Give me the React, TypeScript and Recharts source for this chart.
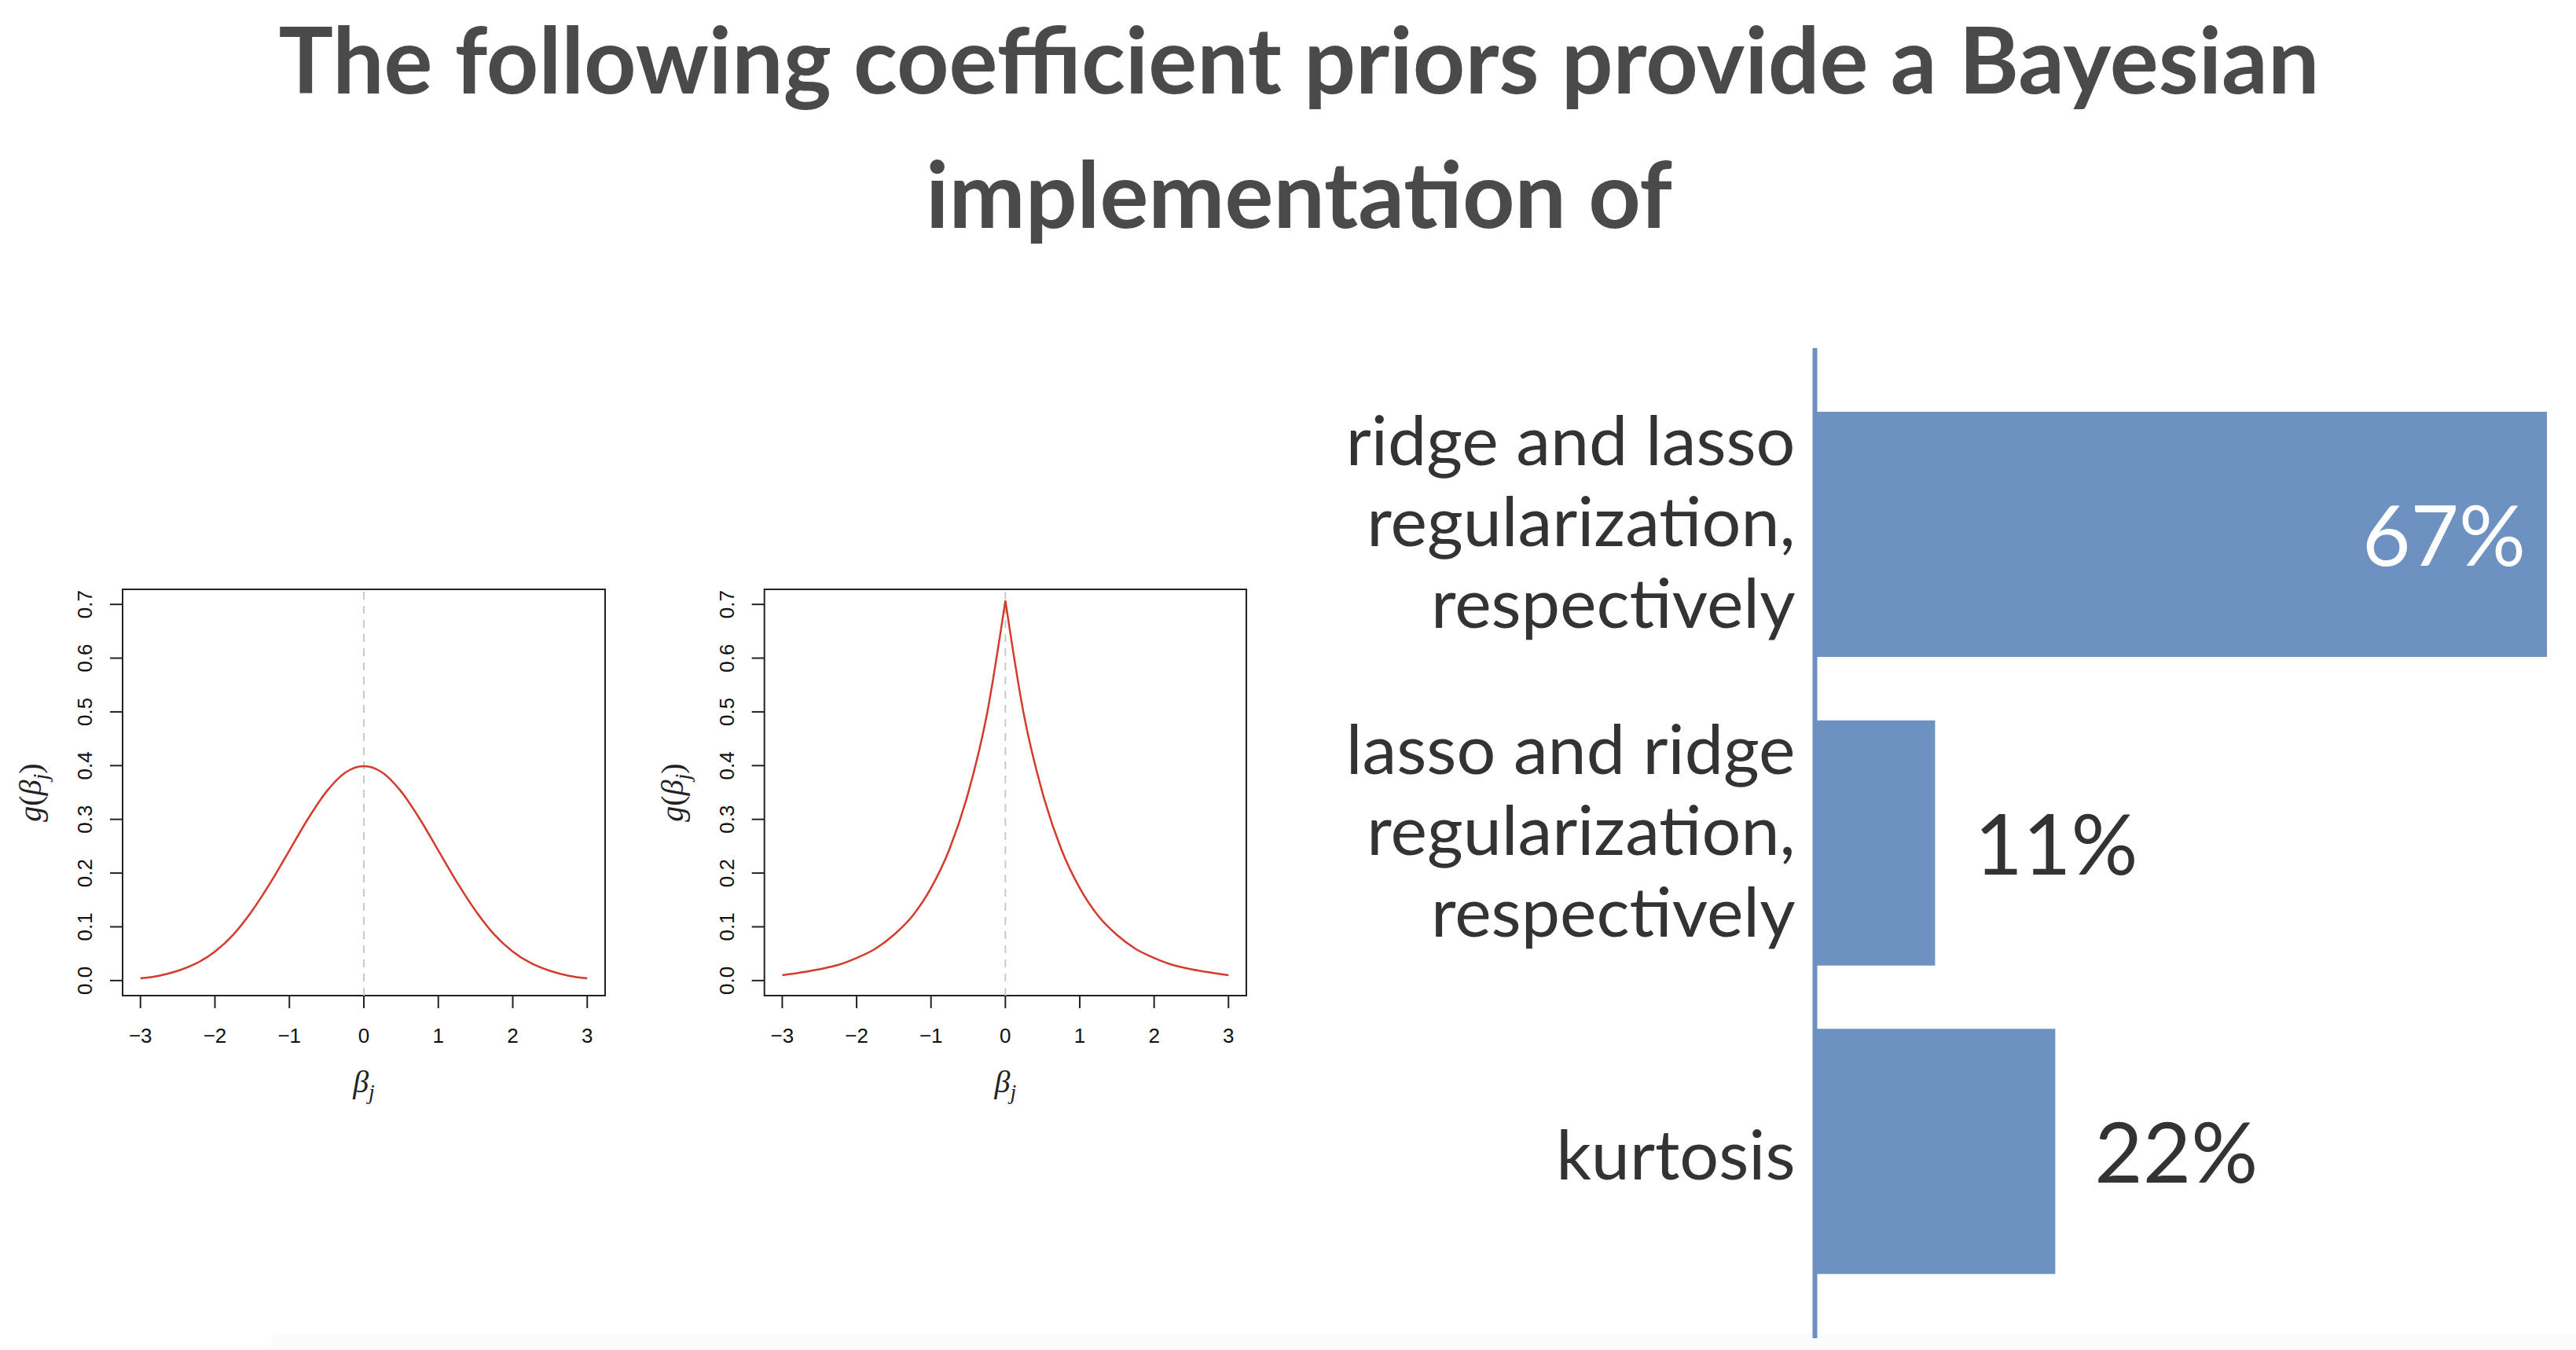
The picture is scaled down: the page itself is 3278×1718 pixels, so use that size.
import React from 'react'
import {
  LineChart, Line, XAxis, YAxis, ReferenceLine, ReferenceArea, Label,
  BarChart, Bar, LabelList,
} from 'recharts'

const TITLE_LINES = ['The following coefficient priors provide a Bayesian', 'implementation of']

// prior densities
const BETA = [-3, -2.75, -2.5, -2.25, -2, -1.75, -1.5, -1.25, -1, -0.75, -0.5, -0.25, 0,
  0.25, 0.5, 0.75, 1, 1.25, 1.5, 1.75, 2, 2.25, 2.5, 2.75, 3]
const NORMAL_PRIOR = [0.004, 0.009, 0.018, 0.032, 0.054, 0.086, 0.130, 0.183, 0.242, 0.301, 0.352, 0.387, 0.399,
  0.387, 0.352, 0.301, 0.242, 0.183, 0.130, 0.086, 0.054, 0.032, 0.018, 0.009, 0.004]
const LAPLACE_PRIOR = [0.010, 0.015, 0.021, 0.029, 0.042, 0.059, 0.085, 0.120, 0.172, 0.245, 0.349, 0.494, 0.707,
  0.494, 0.349, 0.245, 0.172, 0.120, 0.085, 0.059, 0.042, 0.029, 0.021, 0.015, 0.010]
const X_TICKS = [-3, -2, -1, 0, 1, 2, 3]
const Y_TICKS = [0, 0.1, 0.2, 0.3, 0.4, 0.5, 0.6, 0.7]

// poll answers
const ANSWERS = [
  'ridge and lasso\nregularization,\nrespectively',
  'lasso and ridge\nregularization,\nrespectively',
  'kurtosis',
]
const SHARES = [67, 11, 22]

const RED = '#d33c2c'
const BLUE = '#6d92c1'
const R_FONT = '"Liberation Sans", Arial, sans-serif'
const MATH_FONT = '"Liberation Serif", "DejaVu Serif", serif'
const X_DOMAIN: [number, number] = [-3.24, 3.24]
const Y_DOMAIN: [number, number] = [-0.028, 0.728]

const fmtBeta = (v: number) => (v < 0 ? `\u2212${-v}` : `${v}`)

const RotatedTick = ({ x, y, payload }: any) => (
  <text x={x} y={y} transform={`rotate(-90 ${x} ${y})`} textAnchor="middle"
    fontSize={26} fontFamily={R_FONT} fill="#111">
    {Number(payload.value).toFixed(1)}
  </text>
)

const BetaTitle = ({ viewBox }: any) => {
  const cx = viewBox.x + viewBox.width / 2
  const y = viewBox.y + 123
  return (
    <text x={cx} y={y} textAnchor="middle" fontFamily={MATH_FONT} fontStyle="italic" fill="#222" fontSize={40}>
      <tspan>β</tspan>
      <tspan dy={9} fontSize={28}>j</tspan>
    </text>
  )
}

const DensityTitle = ({ viewBox }: any) => {
  const x = viewBox.x - 4
  const cy = viewBox.y + viewBox.height / 2
  return (
    <text x={x} y={cy} transform={`rotate(-90 ${x} ${cy})`} textAnchor="middle"
      fontFamily={MATH_FONT} fill="#222" fontSize={40}>
      <tspan fontStyle="italic">g</tspan>
      <tspan>(</tspan>
      <tspan fontStyle="italic">β</tspan>
      <tspan fontStyle="italic" dy={9} fontSize={28}>j</tspan>
      <tspan dy={-9}>)</tspan>
    </text>
  )
}

function PriorPlot({ values, pointed, left, marginLeft, marginRight }: {
  values: number[]; pointed: boolean; left: number; marginLeft: number; marginRight: number
}) {
  // a pointed density is drawn as two halves so the peak keeps its corner
  const data = BETA.map((b, i) => ({
    x: b,
    lo: !pointed || b <= 0 ? values[i] : null,
    hi: pointed && b >= 0 ? values[i] : null,
  }))
  return (
    <div style={{ position: 'absolute', left, top: 700 }}>
      <LineChart width={800} height={720} data={data}
        margin={{ top: 50, right: marginRight, bottom: 33, left: marginLeft }}>
        <XAxis type="number" dataKey="x" domain={X_DOMAIN} ticks={X_TICKS} allowDataOverflow
          axisLine={false} tickSize={16} tickMargin={26} height={120}
          tickLine={{ stroke: '#222', strokeWidth: 2 }}
          tick={{ fontSize: 26, fontFamily: R_FONT, fill: '#111' }}
          tickFormatter={fmtBeta} interval={0}>
          <Label content={<BetaTitle />} />
        </XAxis>
        <YAxis type="number" domain={Y_DOMAIN} ticks={Y_TICKS} allowDataOverflow
          axisLine={false} tickSize={16} tickMargin={23} width={100}
          tickLine={{ stroke: '#222', strokeWidth: 2 }}
          tick={<RotatedTick />} interval={0}>
          <Label content={<DensityTitle />} />
        </YAxis>
        <ReferenceLine x={0} stroke="#c9c9c9" strokeWidth={2} strokeDasharray="10 8" />
        <ReferenceArea x1={X_DOMAIN[0]} x2={X_DOMAIN[1]} y1={Y_DOMAIN[0]} y2={Y_DOMAIN[1]}
          fill="none" fillOpacity={0} stroke="#222" strokeWidth={2} ifOverflow="visible" />
        <Line type="monotone" dataKey="lo" stroke={RED} strokeWidth={2.5} dot={false}
          activeDot={false} isAnimationActive={false} />
        {pointed && (
          <Line type="monotone" dataKey="hi" stroke={RED} strokeWidth={2.5} dot={false}
            activeDot={false} isAnimationActive={false} />
        )}
      </LineChart>
    </div>
  )
}

const AnswerTick = ({ x, y, payload }: any) => {
  const lines = String(payload.value).split('\n')
  const lineH = 103.5
  // wrapped labels sit a little higher than single-line ones
  const shift = 35 - 10 * (lines.length - 1)
  return (
    <text x={x} y={y} textAnchor="end" fontSize={88} fontFamily="Lato, sans-serif" fill="#333">
      {lines.map((l, i) => (
        <tspan key={i} x={x} y={y + (i - (lines.length - 1) / 2) * lineH + shift}>{l}</tspan>
      ))}
    </text>
  )
}

const ShareLabel = ({ x, y, width, height, value }: any) => {
  const inside = value >= 50
  const bx = Number(x) + Number(width)
  return (
    <text x={inside ? bx - 27 : bx + 50} y={Number(y) + Number(height) / 2 + 40}
      textAnchor={inside ? 'end' : 'start'} fontSize={106} fontFamily="Lato, sans-serif"
      fill={inside ? '#ffffff' : '#333'}>
      {value}%
    </text>
  )
}

export default function App() {
  const barData = ANSWERS.map((name, i) => ({ name, share: SHARES[i] }))
  return (
    <div style={{
      position: 'absolute', left: 0, top: 0, width: 3278, height: 1718,
      background: '#fff', overflow: 'hidden', fontFamily: 'Lato, sans-serif',
    }}>
      <svg width={3278} height={340} style={{ position: 'absolute', left: 0, top: 0 }}>
        {TITLE_LINES.map((t, i) => (
          <text key={i} x={1653} y={119 + i * 171} textAnchor="middle" fontSize={116}
            fontWeight={700} fontFamily="Lato, sans-serif" fill="#4a4a4a">{t}</text>
        ))}
      </svg>

      <PriorPlot values={NORMAL_PRIOR} pointed={false} left={0} marginLeft={56} marginRight={30} />
      <PriorPlot values={LAPLACE_PRIOR} pointed left={820} marginLeft={52.7} marginRight={34} />

      <div style={{ position: 'absolute', left: 345, top: 1697, width: 2933, height: 21, background: '#fcfcfc' }} />

      <div style={{ position: 'absolute', left: 1690, top: 420 }}>
        <BarChart layout="vertical" width={1588} height={1298} data={barData}
          margin={{ top: 23, right: 37, bottom: 15, left: 0 }}>
          <XAxis type="number" domain={[0, 67]} hide />
          <YAxis type="category" dataKey="name" width={619.5} interval={0}
            axisLine={{ stroke: '#6b90c0', strokeWidth: 6 }} tickLine={false}
            tickSize={0} tickMargin={25} padding={{ top: 41, bottom: 41 }}
            tick={(p: any) => <AnswerTick {...p} />} />
          <Bar dataKey="share" fill={BLUE} barSize={312} isAnimationActive={false}>
            <LabelList dataKey="share" content={(p: any) => <ShareLabel {...p} />} />
          </Bar>
        </BarChart>
      </div>
    </div>
  )
}
